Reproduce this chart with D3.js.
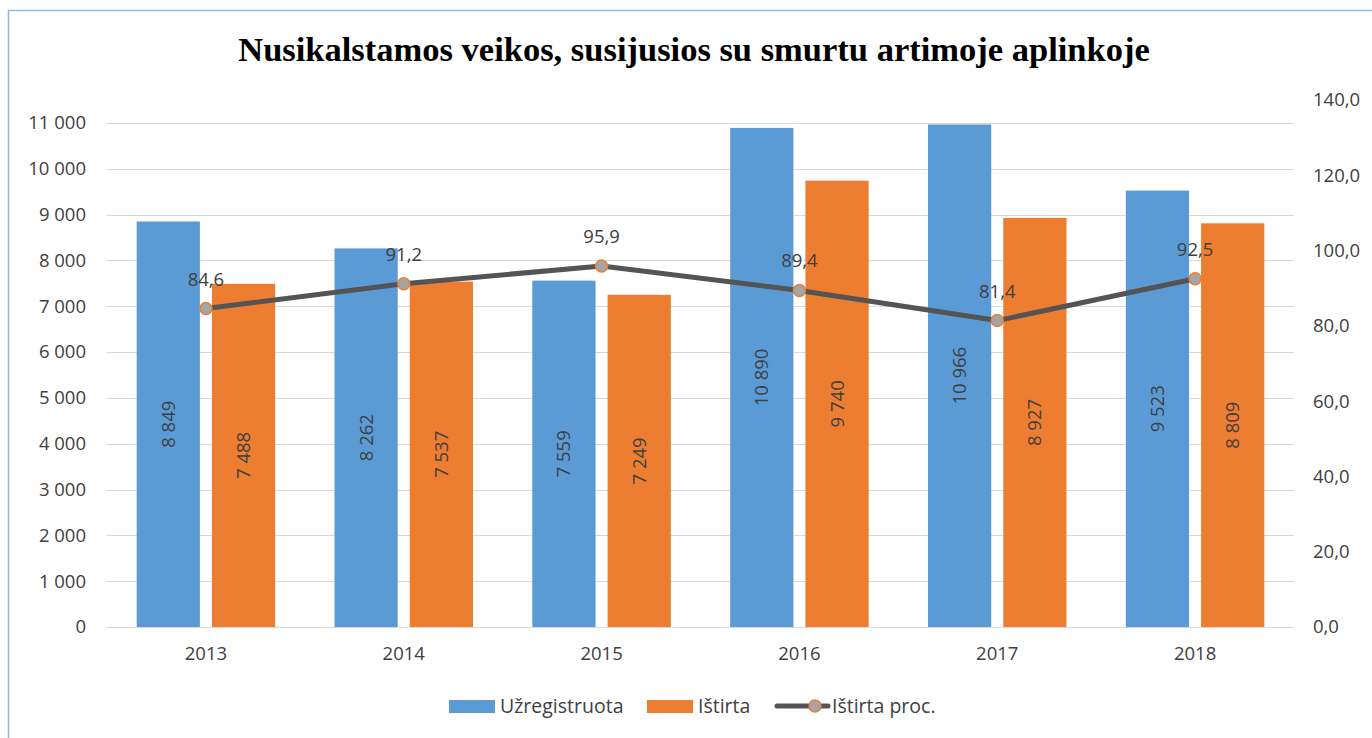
<!DOCTYPE html>
<html>
<head>
<meta charset="utf-8">
<script src="https://cdn.jsdelivr.net/npm/d3@7"></script>
<style>
  body { margin: 0; background: #fff; }
  svg { display: block; }
</style>
</head>
<body>
<div id="chart"></div>
<script>
// Chart data
const years = ["2013", "2014", "2015", "2016", "2017", "2018"];
const registered = [8849, 8262, 7559, 10890, 10966, 9523];   // Užregistruota
const solved = [7488, 7537, 7249, 9740, 8927, 8809];         // Ištirta
const solvedPct = [84.6, 91.2, 95.9, 89.4, 81.4, 92.5];      // Ištirta proc.
const leftTicks = [0, 1000, 2000, 3000, 4000, 5000, 6000, 7000, 8000, 9000, 10000, 11000];
const rightTicks = [0, 20, 40, 60, 80, 100, 120, 140];
const seriesNames = ["Užregistruota", "Ištirta", "Ištirta proc."];

const W = 1372, H = 738;
const plot = { left: 107, right: 1294, top: 100, bottom: 627 };
const font = "'Open Sans', Lato, sans-serif";
const fontSize = "18.5px";
const textColor = "#404040";
const blue = "#5B9BD5", orange = "#ED7D31";

const svg = d3.select("#chart").append("svg")
  .attr("width", W)
  .attr("height", H);

// outer chart border (runs off the right/bottom edge like the screenshot)
svg.append("rect")
  .attr("x", 8.5).attr("y", 10.5)
  .attr("width", W).attr("height", H)
  .attr("fill", "none")
  .attr("stroke", "#8FB8E2")
  .attr("stroke-width", 1.5);

// Title
svg.append("text")
  .attr("x", 694).attr("y", 61)
  .attr("text-anchor", "middle")
  .style("font-family", "'Liberation Serif', 'Times New Roman', serif")
  .style("font-weight", "bold")
  .style("font-size", "34.5px")
  .attr("fill", "#000")
  .text("Nusikalstamos veikos, susijusios su smurtu artimoje aplinkoje");

// Scales
const x = d3.scaleBand().domain(years).range([plot.left, plot.right]).paddingInner(0.3).paddingOuter(0.15);
const xSub = d3.scaleBand().domain([0, 1]).range([0, x.bandwidth()]).paddingInner(0.16);
const yLeft = d3.scaleLinear().domain([0, 11500]).range([plot.bottom, plot.top]);
const yRight = d3.scaleLinear().domain([0, 140]).range([plot.bottom, plot.top]);

const fmtInt = v => d3.format(",")(v).replace(/,/g, " ");
const fmtDec = v => d3.format(".1f")(v).replace(".", ",");

function styleText(sel) {
  sel.style("font-family", font).style("font-size", fontSize).attr("fill", textColor);
}

// Gridlines
svg.append("g")
  .selectAll("line")
  .data(leftTicks)
  .join("line")
  .attr("x1", plot.left).attr("x2", plot.right)
  .attr("y1", d => Math.round(yLeft(d)) + 0.5)
  .attr("y2", d => Math.round(yLeft(d)) + 0.5)
  .attr("stroke", "#D9D9D9")
  .attr("stroke-width", 1.2);

// Left axis
const leftAxis = svg.append("g")
  .attr("transform", `translate(${plot.left},0)`)
  .call(d3.axisLeft(yLeft).tickValues(leftTicks).tickFormat(fmtInt).tickSize(0).tickPadding(21));
leftAxis.select(".domain").remove();
leftAxis.selectAll("text").call(styleText);

// Right axis
const rightAxis = svg.append("g")
  .attr("transform", `translate(${plot.right},0)`)
  .call(d3.axisRight(yRight).tickValues(rightTicks).tickFormat(fmtDec).tickSize(0).tickPadding(19));
rightAxis.select(".domain").remove();
rightAxis.selectAll("text").call(styleText);

// Bottom axis
const bottomAxis = svg.append("g")
  .attr("transform", `translate(0,${plot.bottom})`)
  .call(d3.axisBottom(x).tickSize(0).tickPadding(20));
bottomAxis.select(".domain").remove();
bottomAxis.selectAll("text").call(styleText);

// Bars
const groups = svg.append("g")
  .selectAll("g")
  .data(years.map((y, i) => ({ year: y, values: [registered[i], solved[i]] })))
  .join("g")
  .attr("transform", d => `translate(${x(d.year)},0)`);

groups.selectAll("rect")
  .data(d => d.values.map((v, k) => ({ v, k })))
  .join("rect")
  .attr("x", d => xSub(d.k))
  .attr("width", xSub.bandwidth())
  .attr("y", d => yLeft(d.v))
  .attr("height", d => yLeft(0) - yLeft(d.v))
  .attr("fill", d => d.k === 0 ? blue : orange);

// Bar value labels (rotated, centered in bar)
groups.selectAll("text")
  .data(d => d.values.map((v, k) => ({ v, k })))
  .join("text")
  .attr("transform", d => {
    const cx = xSub(d.k) + xSub.bandwidth() / 2;
    const cy = (yLeft(d.v) + yLeft(0)) / 2;
    return `translate(${cx},${cy}) rotate(-90)`;
  })
  .attr("text-anchor", "middle")
  .attr("dy", "0.35em")
  .call(styleText)
  .text(d => fmtInt(d.v));

// Line series on secondary axis
const line = d3.line()
  .x((d, i) => x(years[i]) + x.bandwidth() / 2)
  .y(d => yRight(d));

svg.append("path")
  .datum(solvedPct)
  .attr("d", line)
  .attr("fill", "none")
  .attr("stroke", "#545454")
  .attr("stroke-width", 5)
  .attr("stroke-linejoin", "round");

svg.append("g")
  .selectAll("circle")
  .data(solvedPct)
  .join("circle")
  .attr("cx", (d, i) => x(years[i]) + x.bandwidth() / 2)
  .attr("cy", d => yRight(d))
  .attr("r", 6)
  .attr("fill", "#A5A5A5")
  .attr("stroke", orange)
  .attr("stroke-width", 1.5);

svg.append("g")
  .selectAll("text")
  .data(solvedPct)
  .join("text")
  .attr("x", (d, i) => x(years[i]) + x.bandwidth() / 2)
  .attr("y", d => yRight(d) - 23)
  .attr("text-anchor", "middle")
  .call(styleText)
  .text(d => fmtDec(d));

// Legend
const legend = svg.append("g").attr("transform", "translate(0,706)");
const legendItems = [
  { name: seriesNames[0], type: "bar", color: blue, x: 449 },
  { name: seriesNames[1], type: "bar", color: orange, x: 647 },
  { name: seriesNames[2], type: "line", color: "#545454", x: 775 }
];
legendItems.forEach(item => {
  const g = legend.append("g").attr("transform", `translate(${item.x},0)`);
  if (item.type === "bar") {
    g.append("rect").attr("x", 0).attr("y", -6).attr("width", 46).attr("height", 13).attr("fill", item.color);
    g.append("text").attr("x", 51).attr("dy", "0.35em").call(styleText).style("font-size", "19.5px").text(item.name);
  } else {
    g.append("line").attr("x1", 2).attr("x2", 53).attr("y1", 0).attr("y2", 0)
      .attr("stroke", item.color).attr("stroke-width", 5).attr("stroke-linecap", "round");
    g.append("circle").attr("cx", 40).attr("cy", 0).attr("r", 6)
      .attr("fill", "#A5A5A5").attr("stroke", orange).attr("stroke-width", 1.5);
    g.append("text").attr("x", 57).attr("dy", "0.35em").call(styleText).style("font-size", "19.5px").text(item.name);
  }
});
</script>
</body>
</html>
